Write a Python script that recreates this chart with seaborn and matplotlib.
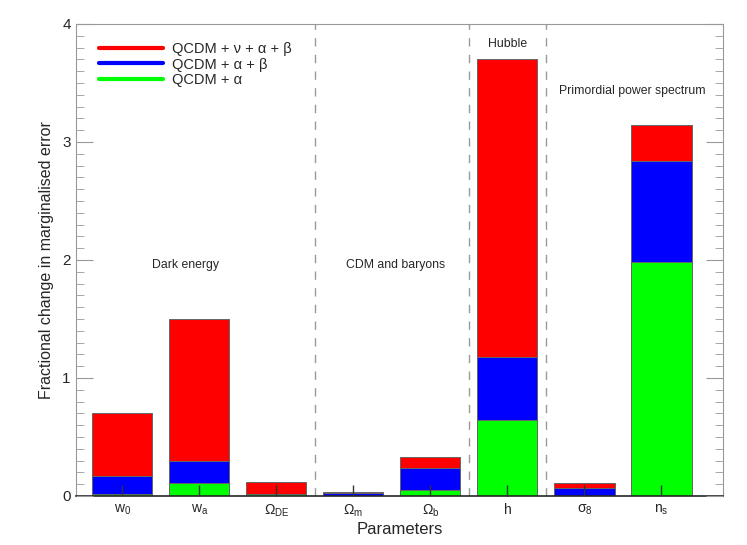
import pandas as pd
import numpy as np
import matplotlib
matplotlib.use('Agg')
import matplotlib.pyplot as plt
import seaborn as sns
from matplotlib.lines import Line2D
from matplotlib.ticker import MultipleLocator

# values (cumulative heights)
params = ['w0', 'wa', 'ODE', 'Om', 'Ob', 'h', 's8', 'ns']
tick_labels = ['w$_0$', 'w$_a$', '$\\Omega_{DE}$', '$\\Omega_m$', '$\\Omega_b$',
               'h', '$\\sigma_8$', 'n$_s$']
full = [0.70, 1.50, 0.12, 0.034, 0.33, 3.70, 0.11, 3.14]      # QCDM + nu + alpha + beta
mid = [0.17, 0.30, 0.015, 0.026, 0.24, 1.18, 0.07, 2.84]      # QCDM + alpha + beta
low = [0.017, 0.11, 0.014, 0.003, 0.05, 0.64, 0.002, 1.98]    # QCDM + alpha

legend_labels = ['QCDM + \u03bd + \u03b1 + \u03b2', 'QCDM + \u03b1 + \u03b2', 'QCDM + \u03b1']
group_names = ['Dark energy', 'CDM and baryons', 'Hubble', 'Primordial power spectrum']

data = pd.DataFrame({'param': params, 'full': full, 'mid': mid, 'low': low})

sns.set_style('white')
plt.rcParams['font.family'] = ['Liberation Sans', 'DejaVu Sans']
plt.rcParams['mathtext.default'] = 'regular'

fig = plt.figure(figsize=(7.47, 5.45), dpi=100)
ax = fig.add_axes([0.102, 0.090, 0.866, 0.866])

for col, c in [('full', '#ff0000'), ('mid', '#0000ff'), ('low', '#00ff00')]:
    sns.barplot(data=data, x='param', y=col, color=c, order=params, width=0.78,
                edgecolor='0.4', linewidth=0.7, saturation=1, ax=ax)

ax.set_axisbelow(False)
ax.set_xlim(-0.6, 7.8)
ax.set_ylim(0, 4)

for xv in [2.5, 4.5, 5.5]:
    ax.axvline(xv, color='0.6', ls=(0, (6, 6)), lw=1, zorder=0)

ax.text(0.82, 1.96, group_names[0], ha='center', va='center', fontsize=8.8)
ax.text(3.55, 1.96, group_names[1], ha='center', va='center', fontsize=8.8)
ax.text(5.0, 3.83, group_names[2], ha='center', va='center', fontsize=8.8)
ax.text(6.62, 3.43, group_names[3], ha='center', va='center', fontsize=8.8)

ax.set_xticks(range(len(params)))
ax.set_xticklabels(tick_labels, fontsize=10)
ax.tick_params(axis='x', direction='in', length=8, width=1, color='0.2', pad=5, bottom=True)
ax.yaxis.set_major_locator(MultipleLocator(1))
ax.yaxis.set_minor_locator(MultipleLocator(0.1))
ax.tick_params(axis='y', which='major', direction='in', length=12, color='0.6',
               left=True, right=True, labelsize=11, pad=4)
ax.tick_params(axis='y', which='minor', direction='in', length=6, color='0.6',
               left=True, right=True)

for s in ['left', 'right', 'top']:
    ax.spines[s].set_color('0.6')
ax.spines['bottom'].set_color('0.15')
ax.spines['bottom'].set_linewidth(1.2)

ax.set_xlabel('Parameters', fontsize=12)
ax.xaxis.set_label_coords(0.5, -0.056)
ax.set_ylabel('Fractional change in marginalised error', fontsize=11.5, labelpad=6)

handles = [Line2D([0], [0], color=c, lw=3) for c in ['#ff0000', '#0000ff', '#00ff00']]
ax.legend(handles, legend_labels, loc='upper left', frameon=False, fontsize=10.5,
          handlelength=4.4, handletextpad=0.6, labelspacing=0.12,
          bbox_to_anchor=(0.015, 0.99))

fig.savefig('out.png', dpi=100)
